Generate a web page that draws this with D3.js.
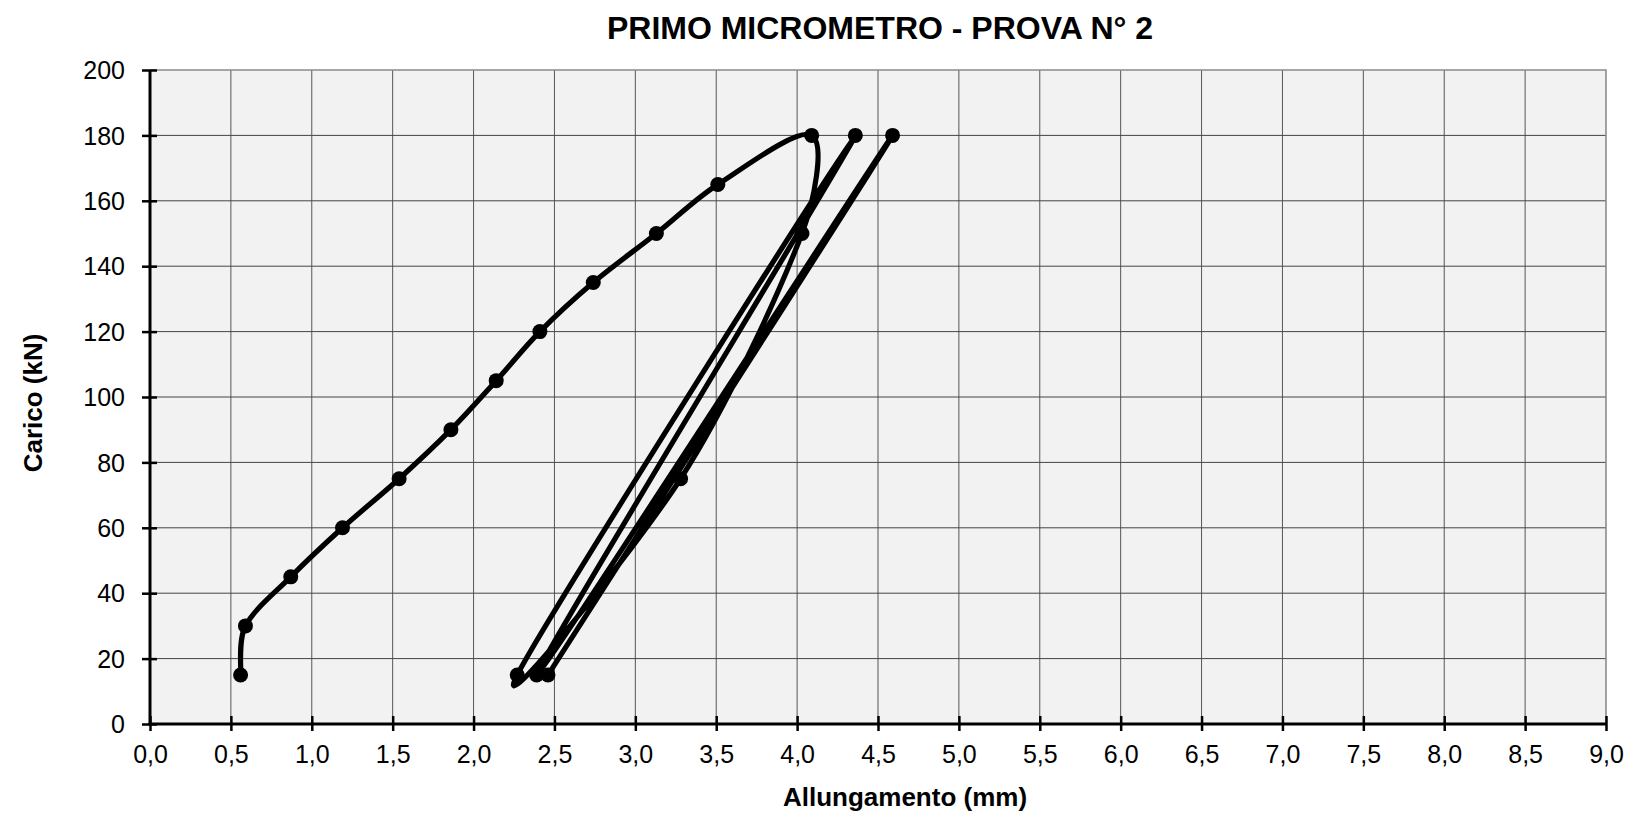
<!DOCTYPE html>
<html>
<head>
<meta charset="utf-8">
<script src="https://cdn.jsdelivr.net/npm/d3@7/dist/d3.min.js"></script>
<style>
  html, body { margin: 0; padding: 0; background: #ffffff; }
  svg { display: block; font-family: "Liberation Sans", Arial, Helvetica, sans-serif; }
</style>
</head>
<body>
<svg id="chart" width="1630" height="814"></svg>
<script>
// ---- data ----
const chartTitle = "PRIMO MICROMETRO - PROVA N° 2";
const xTitle = "Allungamento (mm)";
const yTitle = "Carico (kN)";
// measurement sequence: loading, then three unload/reload cycles
const elongation = [0.56, 0.59, 0.87, 1.19, 1.54, 1.86, 2.14, 2.41, 2.74, 3.13, 3.51, 4.09,
                    4.03, 3.28, 2.27, 4.36, 2.39, 4.59, 2.46];
const load =       [15, 30, 45, 60, 75, 90, 105, 120, 135, 150, 165, 180,
                    150, 75, 15, 180, 15, 180, 15];
const xTickValues = [0, 0.5, 1, 1.5, 2, 2.5, 3, 3.5, 4, 4.5, 5, 5.5, 6, 6.5, 7, 7.5, 8, 8.5, 9];
const yTickValues = [0, 20, 40, 60, 80, 100, 120, 140, 160, 180, 200];

const points = elongation.map((e, i) => ({ x: e, y: load[i] }));

// ---- layout ----
const plot = { left: 150, right: 1606, top: 70, bottom: 724 };

const svg = d3.select("#chart");
const x = d3.scaleLinear().domain([0, 9]).range([plot.left, plot.right]);
const y = d3.scaleLinear().domain([0, 200]).range([plot.bottom, plot.top]);

const locale = d3.formatLocale({ decimal: ",", thousands: ".", grouping: [3], currency: ["", " €"] });
const fmtX = locale.format(".1f");
const fmtY = locale.format("d");

// plot background
svg.append("rect")
  .attr("x", plot.left).attr("y", plot.top)
  .attr("width", plot.right - plot.left).attr("height", plot.bottom - plot.top)
  .attr("fill", "#f2f2f2");

// grid lines
const grid = svg.append("g").attr("class", "grid");
grid.selectAll("line.v").data(xTickValues.filter(v => v > 0 && v < 9)).join("line")
  .attr("class", "v")
  .attr("x1", d => x(d)).attr("x2", d => x(d))
  .attr("y1", plot.top).attr("y2", plot.bottom)
  .attr("stroke", "#555").attr("stroke-width", 1);
grid.selectAll("line.h").data(yTickValues.filter(v => v > 0 && v < 200)).join("line")
  .attr("class", "h")
  .attr("x1", plot.left).attr("x2", plot.right)
  .attr("y1", d => y(d)).attr("y2", d => y(d))
  .attr("stroke", "#444").attr("stroke-width", 1);

// top and right border (light grey)
svg.append("path")
  .attr("d", `M${plot.left},${y(200)}H${x(9)}V${plot.bottom}`)
  .attr("fill", "none").attr("stroke", "#8c8c8c").attr("stroke-width", 1.6);

// axes
const yAxis = d3.axisLeft(y).tickValues(yTickValues).tickFormat(fmtY).tickSize(8).tickPadding(0);
const gy = svg.append("g").attr("transform", `translate(${plot.left},0)`).call(yAxis);
gy.select(".domain").remove();
gy.selectAll(".tick line").attr("x1", 7).attr("x2", -8).attr("stroke", "#000").attr("stroke-width", 2.5);
gy.selectAll(".tick text").attr("x", -25).attr("dy", "0.35em")
  .attr("font-size", 25).attr("fill", "#000").attr("font-family", null);

const xAxis = d3.axisBottom(x).tickValues(xTickValues).tickFormat(fmtX).tickSize(7).tickPadding(0);
const gx = svg.append("g").attr("transform", `translate(0,${plot.bottom})`).call(xAxis);
gx.select(".domain").remove();
gx.selectAll(".tick line").attr("y1", -8).attr("y2", 7).attr("stroke", "#000").attr("stroke-width", 2.5);
gx.selectAll(".tick text").attr("y", 39).attr("dy", 0)
  .attr("font-size", 25).attr("fill", "#000").attr("font-family", null);

// axis lines
svg.append("line").attr("x1", plot.left).attr("x2", plot.left)
  .attr("y1", plot.top).attr("y2", plot.bottom + 1.5)
  .attr("stroke", "#000").attr("stroke-width", 3);
svg.append("line").attr("x1", plot.left - 1.5).attr("x2", plot.right + 1)
  .attr("y1", plot.bottom).attr("y2", plot.bottom)
  .attr("stroke", "#000").attr("stroke-width", 3);

// series: smoothed line (Catmull-Rom Bezier, control length clamped to 1/3 of the adjacent segment)
function smoothPath(pts) {
  const p = d3.path();
  const n = pts.length;
  const dist = (a, b) => Math.hypot(b[0] - a[0], b[1] - a[1]);
  const ctrl = pts.map((pt, i) => {
    const prev = pts[Math.max(i - 1, 0)], next = pts[Math.min(i + 1, n - 1)];
    const tx = (next[0] - prev[0]) / 6, ty = (next[1] - prev[1]) / 6;
    const tl = Math.hypot(tx, ty) || 1;
    const dIn = i > 0 ? dist(prev, pt) : 0, dOut = i < n - 1 ? dist(pt, next) : 0;
    const sIn = Math.min(1, dIn / 3 / tl), sOut = Math.min(1, dOut / 3 / tl);
    return { inX: pt[0] - tx * sIn, inY: pt[1] - ty * sIn, outX: pt[0] + tx * sOut, outY: pt[1] + ty * sOut };
  });
  p.moveTo(pts[0][0], pts[0][1]);
  for (let i = 1; i < n; i++) {
    p.bezierCurveTo(ctrl[i - 1].outX, ctrl[i - 1].outY, ctrl[i].inX, ctrl[i].inY, pts[i][0], pts[i][1]);
  }
  return p.toString();
}
const pix = points.map(d => [x(d.x), y(d.y)]);
svg.append("path")
  .attr("d", smoothPath(pix))
  .attr("fill", "none").attr("stroke", "#000").attr("stroke-width", 5.2)
  .attr("stroke-linejoin", "round").attr("stroke-linecap", "round");

svg.append("g").selectAll("circle").data(points).join("circle")
  .attr("cx", d => x(d.x)).attr("cy", d => y(d.y)).attr("r", 7.5)
  .attr("fill", "#000");

// titles
svg.append("text").attr("x", 880).attr("y", 39).attr("text-anchor", "middle")
  .attr("font-size", 32).attr("font-weight", "bold").attr("fill", "#000").text(chartTitle);
svg.append("text").attr("x", 905).attr("y", 806).attr("text-anchor", "middle")
  .attr("font-size", 26).attr("font-weight", "bold").attr("fill", "#000").text(xTitle);
svg.append("text").attr("transform", "translate(41.5,403) rotate(-90)").attr("text-anchor", "middle")
  .attr("font-size", 26).attr("font-weight", "bold").attr("fill", "#000").text(yTitle);
</script>
</body>
</html>
